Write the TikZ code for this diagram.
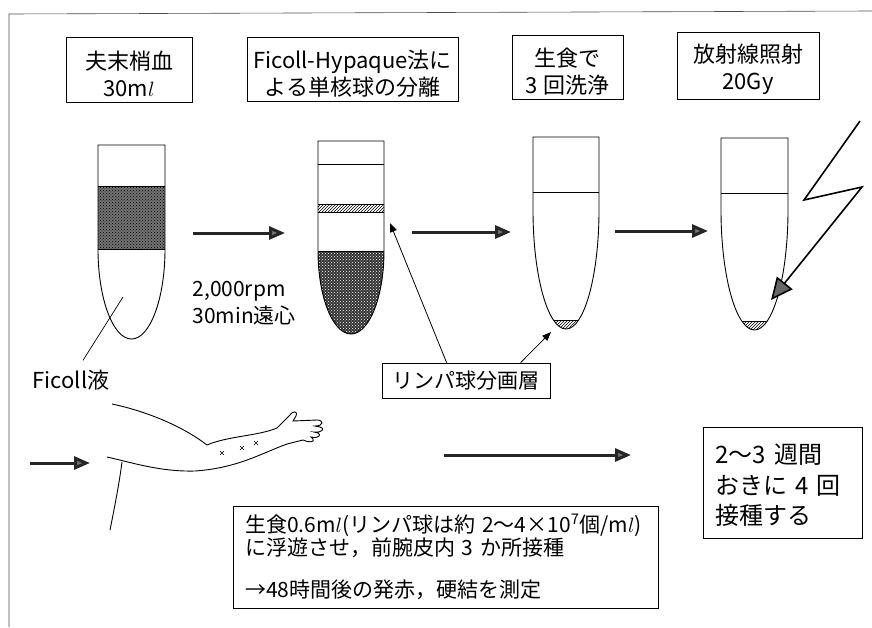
\documentclass[tikz,border=0pt]{standalone}
\usepackage{fontspec}
\setmainfont{Noto Sans CJK JP}
\usetikzlibrary{arrows.meta,patterns,calc}

\begin{document}
\begin{tikzpicture}[x=1pt, y=-1pt,
  box/.style={draw, line width=0.8pt, inner sep=0pt, align=center},
  tube/.style={line width=0.9pt},
  flow/.style={line width=3pt, draw=black!85, -{Triangle[length=16pt,width=13pt,fill=black!55]}},
  lead/.style={line width=0.8pt, -{Triangle[length=9pt,width=7pt]}},
  bolt/.style={line width=1.6pt, -{Triangle[length=22pt,width=20pt,fill=black!60]}},
  big/.style={font=\fontsize{22}{27}\selectfont}]
\useasboundingbox (0,0) rectangle (872,627);
% frame (only top and left edge are left)
\draw[line width=0.6pt, black!70] (9,627) -- (9,14) -- (872,11);
% step titles
\node[box, big, minimum width=126pt, minimum height=65pt] (blood) at (129,69.5) {\rule{0pt}{27pt}夫末梢血\\30m$l$};
\node[box, big, minimum width=211pt, minimum height=64pt] (sep) at (352.5,69) {\rule{0pt}{27pt}Ficoll-Hypaque法に\\よる単核球の分離};
\node[box, big, minimum width=111pt, minimum height=64pt] (wash) at (567.5,67) {\rule{0pt}{27pt}生食で\\3 回洗浄};
\node[box, big, minimum width=142pt, minimum height=67pt] (irrad) at (748,65.5) {\rule{0pt}{27pt}放射線照射\\20Gy};

% tube 1: blood layered on Ficoll
\fill[black!55] (98,186) rectangle (165,249);
\path[pattern=crosshatch dots, pattern color=black] (98,186) rectangle (165,249);
\draw[tube] (98,145) -- (98,249) .. controls (98,298.7) and (113,339) .. (131.5,339)
  .. controls (150,339) and (165,298.7) .. (165,249) -- (165,145) -- cycle;
\draw[tube] (98,186) -- (165,186) (98,249) -- (165,249);
\coordinate (ficin) at (123,297);

% tube 2: after spinning, lymphocyte band + red cell pellet
\fill[black!80] (318,251) .. controls (318,296.8) and (332.8,334) .. (351,334)
  .. controls (369.2,334) and (384,296.8) .. (384,251) -- cycle;
\path[pattern=crosshatch dots, pattern color=white] (318,251) .. controls (318,296.8) and (332.8,334) .. (351,334)
  .. controls (369.2,334) and (384,296.8) .. (384,251) -- cycle;
\path[pattern=north east lines] (318,204) rectangle (384,212);
\draw[tube] (318,141) -- (318,251) .. controls (318,296.8) and (332.8,334) .. (351,334)
  .. controls (369.2,334) and (384,296.8) .. (384,251) -- (384,141) -- cycle;
\draw[tube] (318,164) -- (384,164) (318,204) -- (384,204) (318,212) -- (384,212) (318,251) -- (384,251);
\coordinate (band) at (390,223);

% tube 3: washed cells
\begin{scope}
  \clip (533,137) -- (533,210) .. controls (533,275.7) and (547.8,329) .. (566,329)
    .. controls (584.2,329) and (599,275.7) .. (599,210) -- (599,137) -- cycle;
  \path[pattern=north east lines] (533,320) rectangle (599,335);
  \draw[tube] (533,320) -- (599,320);
\end{scope}
\draw[tube] (533,137) -- (533,210) .. controls (533,275.7) and (547.8,329) .. (566,329)
  .. controls (584.2,329) and (599,275.7) .. (599,210) -- (599,137) -- cycle;
\draw[tube] (533,192) -- (599,192);
\coordinate (pellet) at (551,332);

% tube 4: irradiated cells
\begin{scope}
  \clip (721,138) -- (721,210) .. controls (721,276.2) and (736,330) .. (754.5,330)
    .. controls (773,330) and (788,276.2) .. (788,210) -- (788,138) -- cycle;
  \path[pattern=north east lines] (721,321) rectangle (788,335);
  \draw[tube] (721,321) -- (788,321);
\end{scope}
\draw[tube] (721,138) -- (721,210) .. controls (721,276.2) and (736,330) .. (754.5,330)
  .. controls (773,330) and (788,276.2) .. (788,210) -- (788,138) -- cycle;
\draw[tube] (721,193) -- (788,193);

% lightning
\coordinate (b0) at (860,121);
\coordinate (b1) at (804,200);
\coordinate (b2) at (862,187);
\coordinate (b3) at (771,300);
\draw[bolt] (b0) -- (b1) -- (b2) -- (b3);

% arrows between the steps
\coordinate (f1) at (193,233); \coordinate (f2) at (285,233);
\coordinate (f3) at (412,232); \coordinate (f4) at (511,232);
\coordinate (f5) at (615,231); \coordinate (f6) at (708,231);
\draw[flow] (f1) -- (f2);
\draw[flow] (f3) -- (f4);
\draw[flow] (f5) -- (f6);

% labels
\node[anchor=west, align=left, font=\fontsize{21}{27}\selectfont] (spin) at (189,303) {2,000rpm\\30min遠心};
\node[font=\fontsize{22}{27}\selectfont] (ficoll) at (71,380) {Ficoll液};
\draw[line width=0.7pt] ($(ficoll.north)+(12,-6)$) -- (ficin);
\node[box, font=\fontsize{21}{25}\selectfont, minimum width=168pt, minimum height=35pt] (lymph) at (466,380.5) {リンパ球分画層};
\draw[lead] ($(lymph.north west)+(65,0)$) -- (band);
\draw[lead] ($(lymph.north west)+(139,0)$) -- (pellet);

% arm with three injection sites
\draw[tube] (112,404) .. controls (150,412) and (185,428) .. (207,445)
  .. controls (228,436) and (258,436) .. (277,428)
  -- (289,416) .. controls (292,411) and (298,410) .. (296,416) -- (293,421)
  -- (317,420) .. controls (324,420) and (324,426) .. (315,426)
  -- (320,427) .. controls (325,428) and (323,433) .. (314,432)
  -- (318,433) .. controls (322,435) and (318,439) .. (311,437)
  -- (313,439) .. controls (315,442) and (309,443) .. (303,440)
  -- (287,444) .. controls (262,453) and (238,468) .. (195,471)
  .. controls (160,472) and (130,462) .. (107,457);
\draw[tube] (122,462) .. controls (119,485) and (114,510) .. (110,530);
\foreach \x/\y in {222/453, 242/448, 256/443}
  \draw[line width=0.5pt] (\x-2,\y-2) -- (\x+2,\y+2) (\x-2,\y+2) -- (\x+2,\y-2);

\coordinate (g1) at (30,463); \coordinate (g2) at (90,463);
\coordinate (g3) at (444,455); \coordinate (g4) at (631,455);
\draw[flow] (g1) -- (g2);
\draw[flow] (g3) -- (g4);

\node[box, align=left, font=\fontsize{21}{23}\selectfont, text width=401pt, inner xsep=12pt,
  minimum height=102pt] (inject) at (445.5,557)
  {\mbox{生食0.6m$l$(リンパ球は約 2〜4×10\textsuperscript{7}個/m$l$)}\\
   に浮遊させ，前腕皮内 3 か所接種\\[19pt]
   →48時間後の発赤，硬結を測定};
\node[box, align=left, font=\fontsize{24}{30.5}\selectfont, text width=134pt, inner xsep=12.5pt,
  minimum height=111pt] (repeat) at (782.5,482.5) {\rule{0pt}{25pt}2〜3 週間\\おきに 4 回\\接種する};
\end{tikzpicture}
\end{document}
